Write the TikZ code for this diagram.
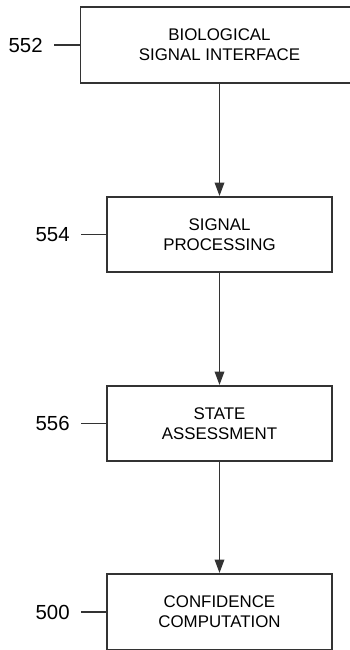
\documentclass[tikz,border=0pt]{standalone}
\usepackage{fontspec}
\setmainfont{Liberation Sans}
\usetikzlibrary{arrows.meta}

\begin{document}
\begin{tikzpicture}[
  x=0.02cm, y=-0.02cm,
  box/.style={draw=black!80, line width=1.1pt, rectangle, minimum width=4.5cm,
              minimum height=1.5cm, align=center, inner sep=0pt,
              font=\fontsize{9.6}{11.3}\selectfont},
  wide/.style={minimum width=5.56cm, minimum height=1.52cm},
  num/.style={anchor=east, inner sep=0pt, inner xsep=0.22cm,
              font=\fontsize{11.6}{13}\selectfont},
  tick/.style={draw=black!80, line width=0.9pt},
  arr/.style={-{Triangle[length=0.27cm,width=0.19cm]}, draw=black!80, line width=1pt},
]
  \useasboundingbox (0,0) rectangle (349,650);

  \def\xc{219.5}  % column centre

  % --- Boxes ---
  \node[box, wide] (bio) at (\xc,45) {BIOLOGICAL\\SIGNAL INTERFACE};
  \node[box] (proc) at (\xc,234.5) {SIGNAL\\PROCESSING};
  \node[box] (state) at (\xc,423.5) {STATE\\ASSESSMENT};
  \node[box, minimum height=1.52cm] (conf) at (\xc,612) {CONFIDENCE\\COMPUTATION};

  % --- Reference numerals ---
  \node[num] (n552) at (54,45) {552};
  \node[num] (n554) at (81,234.5) {554};
  \node[num] (n556) at (81,423.5) {556};
  \node[num] (n500) at (81,612) {500};

  \draw[tick] (n552.east) -- (n552.east -| bio.west);
  \draw[tick] (n554.east) -- (n554.east -| proc.west);
  \draw[tick] (n556.east) -- (n556.east -| state.west);
  \draw[tick] (n500.east) -- (n500.east -| conf.west);

  % --- Flow ---
  \draw[arr] (bio) -- (proc);
  \draw[arr] (proc) -- (state);
  \draw[arr] (state) -- (conf);

\end{tikzpicture}
\end{document}
